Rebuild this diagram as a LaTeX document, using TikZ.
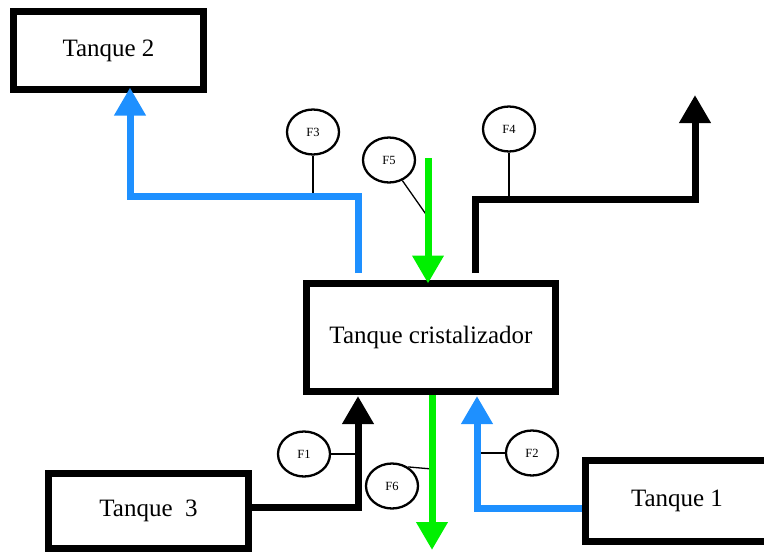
\documentclass[tikz,border=0pt]{standalone}
\usepackage{fontspec}
\setmainfont{Liberation Serif}
\usetikzlibrary{arrows.meta,shapes.geometric}

\definecolor{pipeblue}{RGB}{30,144,255}
\definecolor{pipegreen}{RGB}{0,240,0}

\begin{document}
\begin{tikzpicture}[x=1pt,y=-1pt,
    pipe/.style={line width=7pt, -{Triangle[width=30pt,length=28pt]}},
    stem/.style={line width=1.3pt}]

        \useasboundingbox (0,0) rectangle (764,552);

        % tanks
        \begin{scope}[every node/.style={draw, line width=7pt, inner sep=0pt, font=\fontsize{25}{30}\selectfont}]
          \node[minimum width=190pt, minimum height=78pt]  (t2)   at (108.5,50.5) {Tanque 2};
          \node[minimum width=249pt, minimum height=108pt] (cris) at (431,337.5)  {Tanque cristalizador};
          \node[minimum width=200pt, minimum height=75pt]  (t3)   at (148.5,511)  {Tanque\ \ 3};
          \node[minimum width=183pt, minimum height=81pt]  (t1)   at (677,501)    {Tanque 1};
        \end{scope}

        % flow meters
        \begin{scope}[every node/.style={ellipse, draw, line width=2.3pt, minimum width=52pt, minimum height=45pt, inner sep=0pt, font=\fontsize{12.5}{14}\selectfont}]
          \node (f1) at (304,454) {F1};
          \node (f2) at (532,453) {F2};
          \node (f3) at (313,132) {F3};
          \node (f4) at (509,129) {F4};
          \node (f5) at (389,160) {F5};
          \node (f6) at (392,486) {F6};
        \end{scope}

        % loose pipe ends and taps
        \coordinate (a3)   at (358,273);
        \coordinate (a4)   at (475,273);
        \coordinate (a5)   at (428,158);
        \coordinate (a6)   at (432,550);
        \coordinate (top4) at (695,95);
        \coordinate (m1)   at (358,454);
        \coordinate (m2)   at (477,453);
        \coordinate (m3)   at (313,196);
        \coordinate (m4)   at (509,199);
        \coordinate (m5)   at (430,220);
        \coordinate (m6)   at (432,469);

        \begin{scope}[every path/.style={stem}]
          \draw (f1.east) -- (m1);
          \draw (f2.west) -- (m2);
          \draw (f3.south) -- (m3);
          \draw (f4.south) -- (m4);
          \draw (f5.-57) -- (m5);
          \draw (f6.50) -- (m6);
        \end{scope}

        % pipes
        \draw[pipe, pipeblue]  (a3) |- (130,196) -- ([xshift=21.5pt,yshift=5.5pt]t2.south);
        \draw[pipe]            (a4) |- (695,199) -- (top4);
        \draw[pipe, pipegreen] (a5) -- ([xshift=-3pt,yshift=-3.5pt]cris.north);
        \draw[pipe, pipegreen] ([xshift=1pt]cris.south) -- (a6);
        \draw[pipe]            ([yshift=4pt]t3.east) -| ([xshift=-73pt,yshift=-1pt]cris.south);
        \draw[pipe, pipeblue]  ([yshift=-7pt]t1.west) -| ([xshift=46pt,yshift=-1pt]cris.south);

      \end{tikzpicture}
\end{document}
